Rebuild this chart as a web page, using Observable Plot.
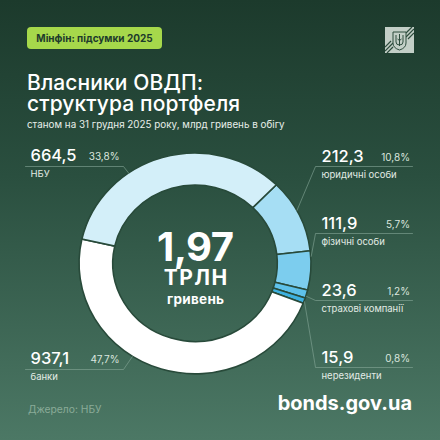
<!DOCTYPE html>
<html>
<head>
<meta charset="utf-8">
<script src="https://cdn.jsdelivr.net/npm/d3@7"></script>
<script src="https://cdn.jsdelivr.net/npm/@observablehq/plot@0.6"></script>
<style>
  html, body { margin: 0; padding: 0; }
  body {
    width: 440px; height: 440px; overflow: hidden; position: relative;
    font-family: Inter, "Noto Sans", sans-serif;
    background: linear-gradient(to bottom, #1c3a2c 0%, #2a4f3f 40%, #4c7865 100%);
    color: #fff;
  }
  #chart { position: absolute; left: 0; top: 0; }
  #badge {
    position: absolute; left: 27px; top: 27px; width: 135px; height: 22px;
    border-radius: 4px; background: #a6d84b; color: #1d3b2b;
    font-size: 10px; font-weight: 700; line-height: 22px; text-align: center;
  }
  #emblem { position: absolute; left: 385px; top: 27px; }
  .tline {
    position: absolute; left: 27px; margin: 0; white-space: nowrap;
    font-size: 21px; font-weight: 500; line-height: 21px; letter-spacing: 0.1px;
  }
  #subtitle {
    position: absolute; left: 27px; top: 118.5px; margin: 0; white-space: nowrap;
    font-size: 9.85px; font-weight: 400; line-height: 10px; color: #e8efea;
  }
  #source {
    position: absolute; left: 28px; top: 403px;
    font-size: 10.3px; line-height: 12px; color: #8aab98;
  }
  #site {
    position: absolute; right: 28px; top: 392px;
    font-size: 20px; font-weight: 700; line-height: 22px; color: #fff;
  }
</style>
</head>
<body>
<div id="badge">Мінфін: підсумки 2025</div>
<svg id="emblem" width="29" height="26" viewBox="0 0 29 26">
  <rect x="0" y="0" width="29" height="26" fill="#c3cfc7"/>
  <g stroke="#2d4c3d" stroke-width="1.2">
    <line x1="0" y1="20" x2="6" y2="14"/><line x1="0" y1="24" x2="8" y2="16"/><line x1="2" y1="26" x2="8" y2="20"/>
    <line x1="21" y1="10" x2="29" y2="2"/><line x1="21" y1="6" x2="27" y2="0"/><line x1="23" y1="12" x2="29" y2="6"/>
  </g>
  <path d="M8 5 H21 V16 Q21 21 14.5 23 Q8 21 8 16 Z" fill="#c3cfc7" stroke="#2d4c3d" stroke-width="1"/>
  <path d="M14.5 7 V19 M11 8 V15 Q11 18 14.5 18 Q18 18 18 15 V8 M12.5 12 Q14.5 15 16.5 12" fill="none" stroke="#2d4c3d" stroke-width="1"/>
</svg>
<h1 class="tline" style="top:72px">Власники ОВДП:</h1>
<h1 class="tline" style="top:93px">структура портфеля</h1>
<p id="subtitle">станом на 31 грудня 2025 року, млрд гривень в обігу</p>
<div id="chart"></div>
<div id="source">Джерело: НБУ</div>
<div id="site">bonds.gov.ua</div>
<script>
// ---------- DATA ----------
const categories = ["юридичні особи", "фізичні особи", "страхові компанії", "нерезиденти", "банки", "НБУ"];
const values = [212.3, 111.9, 23.6, 15.9, 937.1, 664.5];
const shares = [10.8, 5.7, 1.2, 0.8, 47.7, 33.8];
const totalLines = ["1,97", "ТРЛН", "гривень"];

// ---------- STYLE / LAYOUT ----------
const palette = ["#a6def4", "#7ccdee", "#5ec1ea", "#3eb1e0", "#ffffff", "#d3eff9"];
const W = 440, H = 440;
const ring = {cx: 195, cy: 263.5, rx: 116, ry: 110.5, inner: 0.71, startDeg: 44.5};
const columns = {
  right: {textX: 321, pctX: 409.5, line0: 315, line1: 412, under: 5},
  left:  {textX: 30,  pctX: 119,   line0: 25,  line1: 123, under: 6}
};
const labelPlacement = [
  {side: "right", base: 161, angle: 61},
  {side: "right", base: 228, angle: 86},
  {side: "right", base: 295, angle: 107},
  {side: "right", base: 362, angle: 110},
  {side: "left",  base: 363, angle: 213},
  {side: "left",  base: 160, angle: -35}
];
const centerBaselines = [260, 284, 303.5];
const centerSizes = [40, 21, 13.5];
const centerSpacing = [-0.5, 1.5, 0.3];

const fmt = v => v.toFixed(1).replace(".", ",");
const segments = categories.map((name, i) => ({name, value: values[i], share: shares[i], ...labelPlacement[i]}));

const rad = d => d * Math.PI / 180;
const onRing = deg => [ring.cx + ring.rx * Math.sin(rad(deg)), ring.cy - ring.ry * Math.cos(rad(deg))];

// leader lines
const leaders = segments.flatMap(s => {
  const c = columns[s.side];
  const uy = s.base + c.under;
  const [ax, ay] = onRing(s.angle);
  const pts = s.side === "right"
    ? [[ax, ay], [c.line0, uy], [c.line1, uy]]
    : [[c.line0, uy], [c.line1, uy], [ax, ay]];
  return pts.map(([x, y]) => ({name: s.name, x, y}));
});

// donut rendered through Plot's x / y / color scales
function donut(data) {
  return (index, scales) => {
    const X = scales.x(ring.cx), Y = scales.y(ring.cy);
    const sx = scales.x(ring.cx + ring.rx) - X, sy = scales.y(ring.cy + ring.ry) - Y;
    const start = rad(ring.startDeg);
    const pie = d3.pie().value(d => d.value).sort(null).startAngle(start).endAngle(start + 2 * Math.PI);
    const arc = d3.arc().innerRadius(ring.inner).outerRadius(1);
    const g = d3.create("svg:g").attr("transform", `translate(${X},${Y}) scale(${sx},${sy})`);
    g.selectAll("path").data(pie(data)).join("path")
      .attr("d", arc)
      .attr("fill", d => scales.color ? scales.color(d.data.name) : palette[categories.indexOf(d.data.name)])
      .attr("stroke", "#284a3a").attr("stroke-width", 1.6)
      .attr("vector-effect", "non-scaling-stroke").attr("stroke-linejoin", "miter");
    return g.node();
  };
}

const white = "#ffffff", soft = "#dbe6df";
const chart = Plot.plot({
  width: W, height: H,
  margin: 0,
  x: {domain: [0, W], range: [0, W], axis: null},
  y: {domain: [0, H], range: [0, H], axis: null},
  color: {domain: categories, range: palette},
  style: {background: "transparent", fontFamily: "Inter, 'Noto Sans', sans-serif", overflow: "visible"},
  marks: [
    Plot.dot(segments, {x: () => ring.cx, y: () => ring.cy, fill: "name", r: 0}),
    donut(segments),
    Plot.line(leaders, {x: "x", y: "y", z: "name", stroke: "#86a898", strokeOpacity: 0.75, strokeWidth: 0.8}),
    Plot.text(segments, {x: d => columns[d.side].textX, y: "base", text: d => fmt(d.value), textAnchor: "start", lineAnchor: "bottom", fontSize: 16.5, fontWeight: 500, fill: white}),
    Plot.text(segments, {x: d => columns[d.side].pctX, y: d => d.base - 1, text: d => fmt(d.share) + "%", textAnchor: "end", lineAnchor: "bottom", fontSize: 10, fill: soft}),
    Plot.text(segments, {x: d => columns[d.side].textX, y: d => d.base + 16, text: "name", textAnchor: "start", lineAnchor: "bottom", fontSize: 9.5, fill: "#e2ebe5"}),
    Plot.text(totalLines, {x: (d, i) => ring.cx + centerSpacing[i] / 2, y: (d, i) => centerBaselines[i], text: d => d, textAnchor: "middle", lineAnchor: "bottom", fontSize: (d, i) => centerSizes[i], fontWeight: 700, fill: white})
  ]
});
// letter spacing for the centre total lines
chart.querySelectorAll("text").forEach(t => {
  const i = totalLines.indexOf(t.textContent);
  if (i >= 0) t.setAttribute("letter-spacing", centerSpacing[i]);
});
document.getElementById("chart").appendChild(chart);
</script>
</body>
</html>
